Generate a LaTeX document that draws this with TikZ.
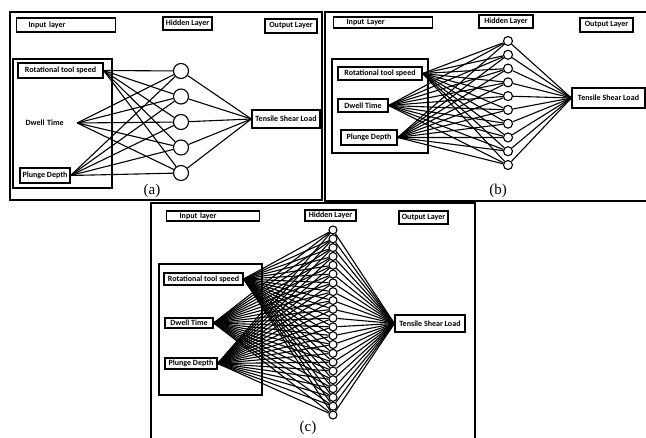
\documentclass[tikz,border=0pt]{standalone}
\usepackage{fontspec}
\newfontfamily\boxfont{Carlito}
\newfontfamily\capfont{Liberation Serif}
\usepackage{tikz}

\begin{document}
\begin{tikzpicture}[
        x=1pt, y=-1pt,
        frame/.style={line width=2.4pt},
        tag/.style={
            draw,
            line width=1.2pt,
            inner sep=1pt,
            font=\boxfont\bfseries\fontsize{8}{9}\selectfont
        },
        grp/.style={draw, line width=1.1pt, inner sep=0pt},
        unit/.style={draw, circle, line width=1.1pt, inner sep=0pt},
        link/.style={line width=1.1pt},
        panelcap/.style={font=\capfont\fontsize{15}{17}\selectfont}
    ]
        \useasboundingbox (0,0) rectangle (646,438);

        % (a)
        \draw[frame] (10,12) rectangle (322,200);
        \node[tag, anchor=west, text width=75pt, align=left, inner xsep=12pt, minimum height=14pt] (ain) at (16,25) {Input layer};
        \node[tag, minimum width=49pt, minimum height=13pt] (ahid) at (187.5,23.5) {Hidden Layer};
        \node[tag, minimum width=52pt, minimum height=14pt] (aout) at (291,26) {Output Layer};
        \node[grp, minimum width=99pt, minimum height=129pt] (agrp) at (62.5,123.5) {};
        \node[tag, minimum width=85pt, minimum height=15pt] (arts) at (60.5,70.5) {Rotational tool speed};
        \node[tag, draw=none, anchor=west, text width=48pt, align=left, inner xsep=3pt] (adwl) at (22,123) {Dwell Time};
        \node[tag, minimum width=50pt, minimum height=15pt] (apd) at (45,175.5) {Plunge Depth};
        \foreach \i in {1,...,5}
            \node[unit, minimum size=15pt] (ah\i) at (181,{71+25.5*(\i-1)}) {};
        \node[tag, minimum width=68pt, minimum height=18pt] (atsl) at (286,119) {Tensile Shear Load};
        \foreach \s in {arts,adwl,apd}
            \foreach \i in {1,...,5}
                \draw[link] (\s.east) -- (ah\i);
        \foreach \i in {1,...,5}
            \draw[link] (ah\i) -- (atsl.west);
        \node[panelcap] (acap) at (152,191) {(a)};

        % (b)
        \draw[frame] (646,12) -| (325,201) -- (646,201);
        \node[tag, anchor=west, text width=73pt, align=left, inner xsep=13pt, minimum height=11pt] (bin) at (333,22.5) {Input Layer};
        \node[tag, minimum width=54pt, minimum height=13pt] (bhid) at (506,21.5) {Hidden Layer};
        \node[tag, minimum width=53pt, minimum height=14pt] (bout) at (606.5,25) {Output Layer};
        \node[grp, minimum width=96pt, minimum height=94pt] (bgrp) at (380,106) {};
        \node[tag, minimum width=84pt, minimum height=13pt] (brts) at (380,73.5) {Rotational tool speed};
        \node[tag, minimum width=50pt, minimum height=13pt] (bdwl) at (363,105.5) {Dwell Time};
        \node[tag, minimum width=56pt, minimum height=15pt] (bpd) at (369,137.5) {Plunge Depth};
        \foreach \i in {1,...,10}
            \node[unit, minimum size=9pt] (bh\i) at (508,{41+13.78*(\i-1)}) {};
        \node[tag, minimum width=73pt, minimum height=20pt] (btsl) at (608.5,98) {Tensile Shear Load};
        \foreach \s in {brts,bdwl,bpd}
            \foreach \i in {1,...,10}
                \draw[link] (\s.east) -- (bh\i);
        \foreach \i in {1,...,10}
            \draw[link] (bh\i) -- (btsl.west);
        \node[panelcap] (bcap) at (498,191) {(b)};

        % (c)
        \draw[frame] (151,438) |- (475,203) -- (475,438);
        \node[tag, anchor=west, text width=67pt, align=left, inner xsep=13pt, minimum height=10pt] (cin) at (166,216) {Input layer};
        \node[tag, minimum width=51pt, minimum height=11pt] (chid) at (330.5,215.5) {Hidden Layer};
        \node[tag, minimum width=49pt, minimum height=13pt] (cout) at (423.5,217.5) {Output Layer};
        \node[grp, minimum width=103pt, minimum height=131pt] (cgrp) at (210.5,329.5) {};
        \node[tag, minimum width=79pt, minimum height=12pt] (crts) at (203.5,279) {Rotational tool speed};
        \node[tag, minimum width=48pt, minimum height=10pt] (cdwl) at (189,323) {Dwell Time};
        \node[tag, minimum width=52pt, minimum height=11pt] (cpd) at (191,363.5) {Plunge Depth};
        \foreach \i in {1,...,22}
            \node[unit, minimum size=8pt] (ch\i) at (333,{230+8.81*(\i-1)}) {};
        \node[tag, minimum width=70pt, minimum height=17pt] (ctsl) at (430,323.5) {Tensile Shear Load};
        \foreach \s in {crts,cdwl,cpd}
            \foreach \i in {1,...,22}
                \draw[link] (\s.east) -- (ch\i);
        \foreach \i in {1,...,22}
            \draw[link] (ch\i) -- (ctsl.west);
        \node[panelcap] (ccap) at (308,428) {(c)};
    \end{tikzpicture}
\end{document}
